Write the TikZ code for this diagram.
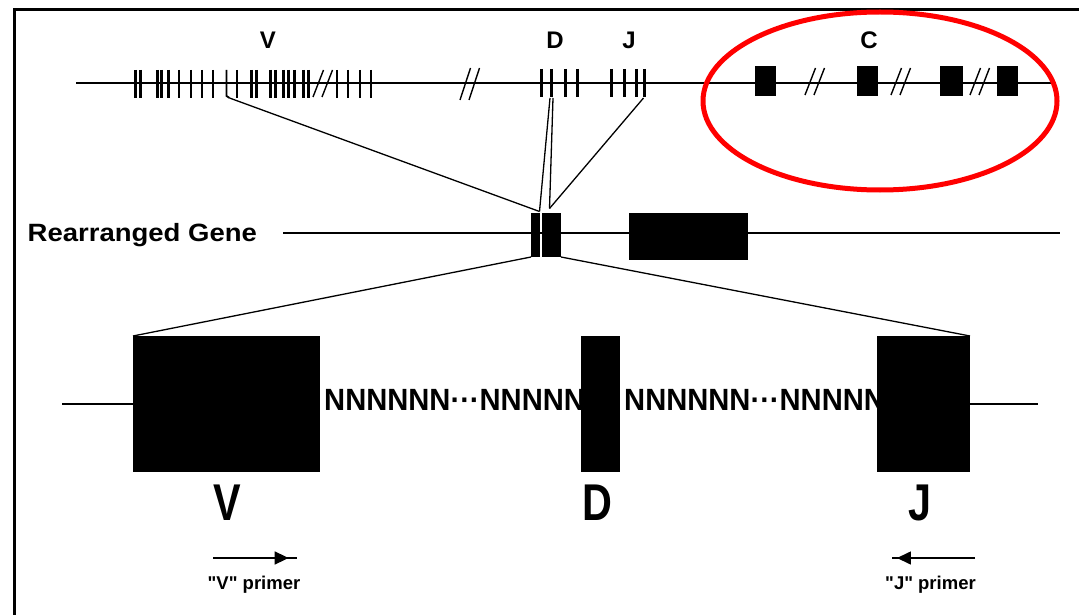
\documentclass[tikz,border=0pt]{standalone}
\usepackage{fontspec}
\setmainfont{Liberation Sans}[Ligatures=TeXOff]
\usetikzlibrary{arrows.meta,decorations.markings}
\begin{document}
\begin{tikzpicture}[x=1pt,y=-1pt,
  wire/.style={line width=1.6pt,black},
  thintick/.style={line width=1.8pt},
  thicktick/.style={line width=3pt},
  slash/.style={line width=1.4pt},
  exon/.style={fill=black,draw=none,inner sep=0pt,outer sep=0pt,anchor=north west},
  toplbl/.style={font=\bfseries\fontsize{24}{24}\selectfont,anchor=base,inner sep=0pt},
  biglbl/.style={font=\bfseries\fontsize{51.7}{52}\selectfont,anchor=base,inner sep=0pt},
  ntext/.style={font=\bfseries\fontsize{30.7}{31}\selectfont,anchor=base west,inner sep=0pt},
  primer/.style={font=\bfseries\fontsize{18.5}{19}\selectfont,anchor=base,inner sep=0pt},
  rarrow/.style={wire,postaction=decorate,decoration={markings,mark=at position #1 with {\arrow{Triangle[length=14pt,width=13pt]}}}}
]
\useasboundingbox (0,0) rectangle (1079,615);
\fill[white] (0,0) rectangle (1079,615);
% frame
\draw[line width=2.5pt] (14.5,615) -- (14.5,9.5) -- (1079,9.5);

% ---------- germline ----------
\coordinate (topL) at (76,83);
\coordinate (topR) at (1055,83);
\draw[wire] (topL) -- (topR);
% V ticks
\foreach \x in {135,140.7,157.3,161.7,168.3,251,256.7,270,275,283.3,288.3,294,303.3,308.3}
  \draw[thicktick] (\x,70) -- (\x,98);
\foreach \x in {179.3,190.7,201.7,213.3,237.3,337,348,360,371}
  \draw[thintick] (\x,70) -- (\x,98);
\coordinate (vsrc) at (229.5,98);
\draw[thintick] (226.5,70) -- (226.5,96) -- (vsrc);
% D ticks
\foreach \x in {541,551,565,577}
  \draw[thicktick] (\x,69) -- (\x,97);
% J ticks
\foreach \x in {611,624,636,644}
  \draw[thicktick] (\x,69) -- (\x,97);
\coordinate (dsrcA) at (550,98);
\coordinate (dsrcB) at (553,98);
\coordinate (jsrc) at (643.5,98);
% slashes
\foreach \x/\t/\b in {313/70/97,460/68/100,805/68/95,891/68/95,970/68/95}{
  \draw[slash] (\x,\b) -- (\x+10.5,\t);
  \draw[slash] (\x+9,\b) -- (\x+19.5,\t);
}
% C exons
\node[exon,minimum width=21pt,minimum height=30pt] (c1) at (755,66) {};
\node[exon,minimum width=21pt,minimum height=30pt] (c2) at (857,66) {};
\node[exon,minimum width=23pt,minimum height=30pt] (c3) at (940,66) {};
\node[exon,minimum width=21pt,minimum height=30pt] (c4) at (997,66) {};
% top labels
\node[toplbl] (lV) at (268,49) {V};
\node[toplbl] (lD) at (555,49) {D};
\node[toplbl] (lJ) at (629,49) {J};
\node[toplbl] (lC) at (869,49) {C};

% ---------- rearranged gene ----------
\node[anchor=base west,inner sep=0pt] (rglbl) at (27.5,241.5)
  {\scalebox{1.1}[1]{\bfseries\fontsize{25}{25}\selectfont Rearranged Gene}};
\coordinate (rgL) at (283,233);
\coordinate (rgR) at (1060,233);
\draw[wire] (rgL) -- (rgR);
\node[exon,minimum width=8.5pt,minimum height=44pt] (rg1) at (531,213) {};
\node[exon,minimum width=19pt,minimum height=44pt] (rg2) at (542,213) {};
\node[exon,minimum width=119pt,minimum height=47pt] (rgC) at (629,212.5) {};
\coordinate (tgtA) at (539.5,211.5);
\coordinate (tgtB) at (549.5,208.5);
\draw[wire,line width=1.3pt] (vsrc) -- (tgtA);
\draw[wire,line width=1.3pt] (dsrcA) -- (tgtA);
\draw[wire,line width=1.3pt] (dsrcB) -- (tgtB);
\draw[wire,line width=1.3pt] (jsrc) -- (tgtB);

% ---------- expanded VDJ ----------
\coordinate (lowL) at (62,404);
\coordinate (lowR) at (1038,404);
\node[ntext] (n1) at (324,410.7) {\scalebox{0.95}[1]{NNNNNN···NNNNN}};
\node[ntext] (n2) at (624,410.7) {\scalebox{0.95}[1]{NNNNNN···NNNNN}};
\node[exon,minimum width=187pt,minimum height=136pt] (Vbox) at (133,336) {};
\node[exon,minimum width=39pt,minimum height=136pt] (Dbox) at (581,336) {};
\node[exon,minimum width=93pt,minimum height=136pt] (Jbox) at (877,336) {};
\draw[wire] (lowL) -- (Vbox.west);
\draw[wire] (Jbox.east) -- (lowR);
\draw[wire,line width=1.3pt] (rg1.south west) -- (Vbox.north west);
\draw[wire,line width=1.3pt] (rg2.south east) -- (Jbox.north east);
\node[biglbl] (bV) at (227,520) {\scalebox{0.8}[1]{V}};
\node[biglbl] (bD) at (597,520) {\scalebox{0.8}[1]{D}};
\node[biglbl] (bJ) at (920,520) {\scalebox{0.8}[1]{J}};

% primers
\coordinate (vp1) at (213,558);
\coordinate (vp2) at (297,558);
\draw[rarrow=0.9] (vp1) -- (vp2);
\node[primer] (vpt) at (254,589.5) {"V" primer};
\coordinate (jp1) at (975,558);
\coordinate (jp2) at (892,558);
\draw[rarrow=0.94] (jp1) -- (jp2);
\node[primer] (jpt) at (930.5,589.5) {"J" primer};

% highlight
\draw[red,line width=5pt] (880,101) ellipse [x radius=177pt,y radius=89pt];
\end{tikzpicture}
\end{document}
